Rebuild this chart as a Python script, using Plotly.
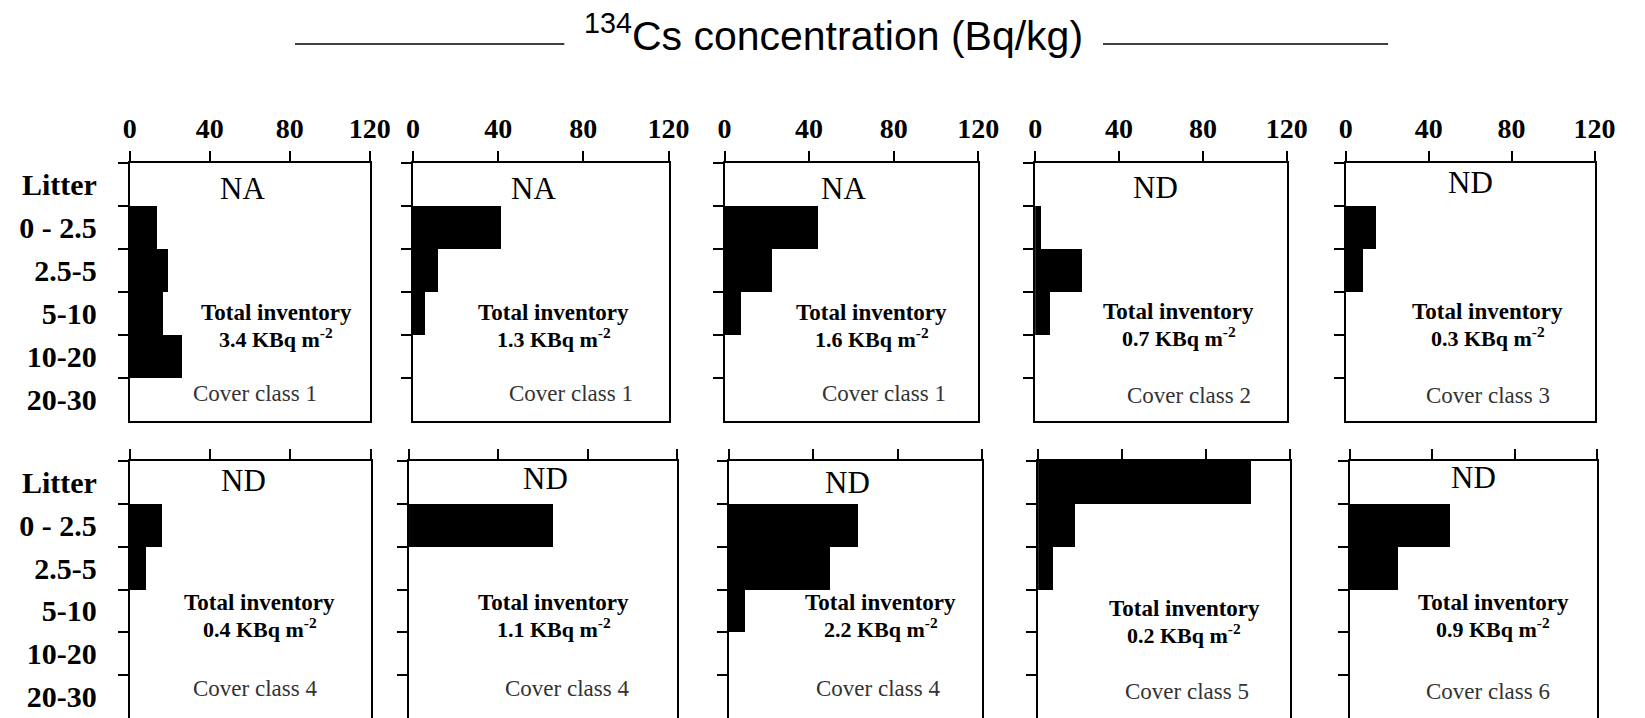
import plotly.graph_objects as go

W, H = 1645, 718

# Soil / litter layers (cm)
depths = ["Litter", "0 - 2.5", "2.5-5", "5-10", "10-20", "20-30"]
x_ticks = [0, 40, 80, 120]

# 134Cs concentration (Bq/kg) per layer for each profile; None = no bar
profile_1 = [None, 13.4, 18.9, 16.7, 25.9, None]
profile_2 = [None, 41.1, 11.7, 5.4, None, None]
profile_3 = [None, 44.0, 22.3, 7.5, None, None]
profile_4 = [None, 2.8, 22.2, 7.2, None, None]
profile_5 = [None, 14.3, 8.3, None, None, None]
profile_6 = [None, 15.8, 7.8, None, None, None]
profile_7 = [None, 64.2, None, None, None, None]
profile_8 = [None, 61.1, 47.7, 7.6, None, None]
profile_9 = [101.6, 17.6, 7.0, None, None, None]
profile_10 = [None, 48.5, 23.2, None, None, None]

profiles = [profile_1, profile_2, profile_3, profile_4, profile_5,
            profile_6, profile_7, profile_8, profile_9, profile_10]

litter_flags = ["NA", "NA", "NA", "ND", "ND", "ND", "ND", "ND", None, "ND"]
inventories = ["3.4", "1.3", "1.6", "0.7", "0.3", "0.4", "1.1", "2.2", "0.2", "0.9"]
cover_classes = [1, 1, 1, 2, 3, 4, 4, 4, 5, 6]

# Panel geometry in pixels
panel_x = [(125, 369), (413, 673), (730, 988), (1046, 1302), (1362, 1615),
           (125, 370), (409, 682), (734, 992), (1049, 1305), (1366, 1618)]
row_y = [(163, 421), (461, 718)]

flag_pos = [(0.47, 188), (0.47, 188), (0.47, 188), (0.48, 187), (0.50, 182),
            (0.47, 480), (0.51, 478), (0.47, 482), None, (0.50, 477)]
inv_pos = [(0.61, 312), (0.55, 312), (0.58, 312), (0.57, 311), (0.57, 311),
           (0.54, 602), (0.54, 602), (0.60, 602), (0.58, 608), (0.58, 602)]
cover_pos = [(0.52, 393), (0.62, 393), (0.63, 393), (0.61, 395), (0.57, 395),
             (0.52, 688), (0.59, 688), (0.59, 688), (0.59, 691), (0.56, 691)]

SERIF = "Liberation Serif"
SANS = "Liberation Sans"

fig = go.Figure()
layout = dict(
    width=W, height=H,
    margin=dict(l=0, r=0, t=0, b=0),
    paper_bgcolor="white", plot_bgcolor="white",
    bargap=0, showlegend=False,
)
annotations = []
shapes = []

for i, vals in enumerate(profiles):
    k = i + 1
    suffix = "" if k == 1 else str(k)
    row, col = divmod(i, 5)
    x0, x1 = panel_x[i]
    y0, y1 = row_y[row]
    fig.add_trace(go.Bar(
        x=vals, y=depths, orientation="h", width=1,
        marker=dict(color="black", line=dict(width=0)),
        xaxis="x" + suffix, yaxis="y" + suffix, hoverinfo="x+y",
    ))
    layout["xaxis" + suffix] = dict(
        domain=[x0 / W, x1 / W], anchor="y" + suffix, side="top",
        range=[0, 120], tickvals=x_ticks, ticks="outside", ticklen=10,
        tickwidth=1.5, tickcolor="black",
        showline=True, linecolor="black", linewidth=2, mirror=(row == 0),
        showgrid=False, zeroline=False, showticklabels=(row == 0),
        ticklabelstandoff=2,
        tickfont=dict(family=SERIF, size=28, color="black", weight="bold"),
    )
    layout["yaxis" + suffix] = dict(
        domain=[1 - y1 / H, 1 - y0 / H], anchor="x" + suffix,
        type="category", categoryorder="array", categoryarray=depths,
        range=[5.5, -0.5], tickson="boundaries", ticks="outside", ticklen=10,
        tickwidth=1.5, tickcolor="black",
        showline=True, linecolor="black", linewidth=2, mirror=True,
        showgrid=False, zeroline=False, showticklabels=(col == 0),
        ticklabelstandoff=25,
        tickfont=dict(family=SERIF, size=30, color="black", weight="bold"),
    )

    ph = y1 - y0
    xr, yr = "x" + suffix + " domain", "y" + suffix + " domain"

    if litter_flags[i] is not None:
        fx, fy = flag_pos[i]
        annotations.append(dict(
            text=litter_flags[i], xref=xr, yref=yr, x=fx, y=1 - (fy - y0) / ph,
            xanchor="center", yanchor="middle", showarrow=False,
            font=dict(family=SERIF, size=31, color="black"),
        ))

    ix, iy = inv_pos[i]
    annotations.append(dict(
        text="Total inventory", xref=xr, yref=yr, x=ix, y=1 - (iy - y0) / ph,
        xanchor="center", yanchor="middle", showarrow=False,
        font=dict(family=SERIF, size=23, color="black", weight="bold"),
    ))
    annotations.append(dict(
        text=inventories[i] + " KBq m<sup>-2</sup>", xref=xr, yref=yr,
        x=ix, y=1 - (iy + 26 - y0) / ph,
        xanchor="center", yanchor="middle", showarrow=False,
        font=dict(family=SERIF, size=22, color="black", weight="bold"),
    ))

    cx, cy = cover_pos[i]
    annotations.append(dict(
        text="Cover class %d" % cover_classes[i], xref=xr, yref=yr,
        x=cx, y=1 - (cy - y0) / ph,
        xanchor="center", yanchor="middle", showarrow=False,
        font=dict(family=SERIF, size=23, color="#333333"),
    ))

# Figure heading with rules on both sides
annotations.append(dict(
    text="<sup>134</sup>Cs concentration (Bq/kg)", xref="paper", yref="paper",
    x=841 / W, y=1 - 33 / H, xanchor="center", yanchor="middle", showarrow=False,
    font=dict(family=SANS, size=41, color="black"),
))
for a, b in [(293, 567), (1115, 1405)]:
    shapes.append(dict(
        type="line", xref="paper", yref="paper",
        x0=a / W, x1=b / W, y0=1 - 44 / H, y1=1 - 44 / H,
        line=dict(color="black", width=1.5),
    ))

layout["annotations"] = annotations
layout["shapes"] = shapes
fig.update_layout(**layout)

fig.write_html("out.html")
